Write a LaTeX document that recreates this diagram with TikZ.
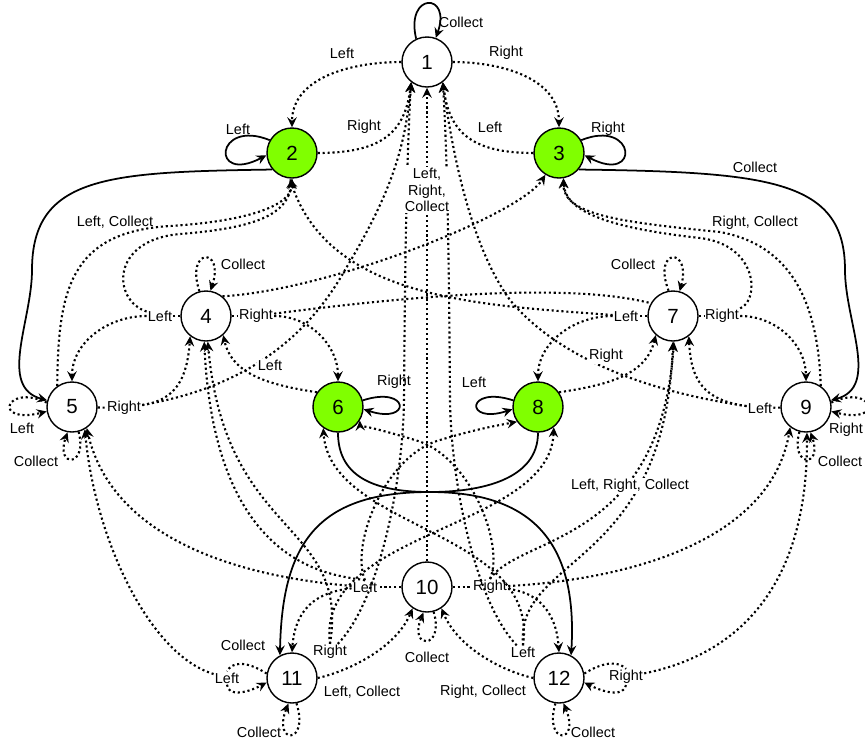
\documentclass[tikz,border=0pt]{standalone}
\usepackage{fontspec}
\setmainfont{Liberation Sans}
\usetikzlibrary{arrows.meta}
\definecolor{coingreen}{HTML}{80FF00}
\tikzset{
  state/.style={circle, draw, line width=1.2pt, minimum size=1.5cm, inner sep=0pt,
    font=\fontsize{17.5}{20}\selectfont},
  coin/.style={state, fill=coingreen},
  act/.style={font=\fontsize{12.3}{14}\selectfont, inner sep=1pt, fill=white},
  stub/.style={line width=1.8pt, dash pattern=on 1.8pt off 2.4pt},
  tip/.style={-{Stealth[length=8.5pt,width=8pt,inset=3pt]}},
  sure/.style={tip, line width=1.5pt},
  maybe/.style={stub, tip},
}
\begin{document}
\begin{tikzpicture}[x=0.03cm, y=0.03cm]
\useasboundingbox (0,0) rectangle (865,-742);

\node[state] (s1) at (427,-62) {1};
\node[coin] (s2) at (292,-153) {2};
\node[coin] (s3) at (559,-153) {3};
\node[state] (s4) at (206,-316) {4};
\node[state] (s5) at (72,-407) {5};
\node[coin] (s6) at (338,-407) {6};
\node[state] (s7) at (673,-316) {7};
\node[coin] (s8) at (538,-407) {8};
\node[state] (s9) at (806,-407) {9};
\node[state] (s10) at (427,-587) {10};
\node[state] (s11) at (292,-678) {11};
\node[state] (s12) at (559,-678) {12};

\node[act] (a4l) at (160,-316) {Left};
\node[act] (a4r) at (256,-316) {Right};
\node[act] (a7l) at (626,-316) {Left};
\node[act] (a7r) at (722,-316) {Right};
\node[act] (a5r) at (124,-408) {Right};
\node[act] (a9l) at (760,-408) {Left};
\node[act] (a10l) at (365,-587) {Left};
\node[act] (a10r) at (490,-587) {Right};
\node[act] (a11l) at (227,-678) {Left};
\node[act] (a11r) at (330,-652) {Right};
\node[act] (a12l) at (523,-652) {Left};
\node[act] (a12r) at (626,-677) {Right};

\draw[stub] (s4) -- (a4l);
\draw[stub] (s4) -- (a4r);
\draw[stub] (s7) -- (a7l);
\draw[stub] (s7) -- (a7r);
\draw[stub] (s5) -- (a5r);
\draw[stub] (s9) -- (a9l);
\draw[stub] (s10) -- (a10l);
\draw[stub] (s10) -- (a10r);

\draw[sure] (s1.115) .. controls (405,8) and (452,8) .. (s1.70);
\draw[maybe] (s1.west) to[out=180,in=90] (s2.north);
\draw[maybe] (s1.east) to[out=0,in=90] (s3.north);
\draw[sure] (s2.150) .. controls (215,-118) and (210,-185) .. (s2.185);
\draw[sure] (s3.30) .. controls (636,-118) and (641,-185) .. (s3.355);
\draw[maybe] (s2.east) .. controls (385,-153) and (405,-130) .. (s1.232);
\draw[maybe] (s3.west) .. controls (469,-153) and (449,-130) .. (s1.308);
\draw[sure] (s2.220) .. controls (110,-172) and (32,-175) .. (32,-270) to[out=-90,in=165] (s5.165);
\draw[sure] (s3.320) .. controls (770,-172) and (845,-180) .. (845,-270) to[out=-90,in=15] (s9.15);

\draw[maybe] (s5.125) .. controls (58,-290) and (70,-232) .. (170,-226) .. controls (250,-221) and (292,-205) .. (s2.south);
\draw[maybe] (a4l) .. controls (112,-300) and (110,-240) .. (180,-234) .. controls (255,-228) and (288,-215) .. (s2.south);
\draw[maybe] (s9.55) .. controls (818,-300) and (790,-245) .. (720,-232) .. controls (620,-222) and (563,-215) .. (s3.280);
\draw[maybe] (a7r) .. controls (760,-300) and (758,-245) .. (700,-238) .. controls (610,-228) and (565,-212) .. (s3.280);
\draw[maybe] (a4l) to[out=180,in=90] (s5.north);
\draw[maybe] (a4r) to[out=0,in=90] (s6.north);
\draw[maybe] (a7l) to[out=180,in=90] (s8.north);
\draw[maybe] (a7r) to[out=0,in=90] (s9.north);
\draw[maybe] (s4.105) .. controls (185,-247) and (225,-247) .. (s4.80);
\draw[maybe] (s7.100) .. controls (652,-247) and (692,-247) .. (s7.75);

\draw[maybe] (s4.50) .. controls (330,-290) and (520,-215) .. (s3.238);
\draw[maybe] (a7l) .. controls (480,-305) and (330,-300) .. (s2.265);
\draw[stub] (a4r) .. controls (380,-300) and (560,-280) .. (s7.150);
\draw[maybe] (a5r) .. controls (230,-390) and (300,-350) .. (345,-270) .. controls (390,-195) and (405,-150) .. (s1.232);
\draw[maybe] (a9l) .. controls (650,-392) and (560,-360) .. (510,-300) .. controls (470,-245) and (452,-150) .. (s1.308);

\draw[maybe] (s5.170) .. controls (5,-383) and (-8,-425) .. (s5.190);
\draw[maybe] (s5.285) .. controls (88,-468) and (55,-468) .. (s5.260);
\draw[maybe] (s9.10) .. controls (873,-383) and (886,-425) .. (s9.350);
\draw[maybe] (s9.255) .. controls (790,-468) and (823,-468) .. (s9.280);
\draw[maybe] (a5r) .. controls (175,-400) and (187,-380) .. (s4.232);
\draw[maybe] (a9l) .. controls (703,-400) and (691,-380) .. (s7.308);
\draw[maybe] (s6.145) .. controls (270,-385) and (232,-375) .. (s4.312);
\draw[maybe] (s8.35) .. controls (608,-385) and (646,-375) .. (s7.228);
\draw[sure] (s6.15) .. controls (410,-385) and (412,-425) .. (s6.355);
\draw[sure] (s8.165) .. controls (466,-385) and (464,-425) .. (s8.185);

\draw[sure] (s6.south) .. controls (338,-480) and (380,-492) .. (430,-492) .. controls (530,-492) and (578,-540) .. (s12.62);
\draw[sure] (s8.south) .. controls (538,-480) and (480,-492) .. (430,-492) .. controls (320,-492) and (282,-540) .. (s11.118);

\draw[maybe] (s10.north) -- (s1.south);
\draw[maybe] (a11r) .. controls (380,-600) and (403,-480) .. (404,-400) .. controls (405,-250) and (407,-150) .. (s1.232);
\draw[maybe] (a12l) .. controls (474,-600) and (451,-480) .. (450,-400) .. controls (449,-250) and (447,-150) .. (s1.308);
\draw[maybe] (a10l) .. controls (315,-592) and (295,-610) .. (s11.north);
\draw[maybe] (a10r) .. controls (536,-592) and (556,-610) .. (s12.north);
\draw[maybe] (a10l) .. controls (220,-575) and (110,-530) .. (s5.305);
\draw[maybe] (a10r) .. controls (620,-580) and (770,-545) .. (s9.232);
\draw[maybe] (a11l) .. controls (150,-655) and (95,-540) .. (s5.300);
\draw[maybe] (a12r) .. controls (760,-650) and (808,-560) .. (s9.272);
\draw[stub] (s11.170) .. controls (245,-660) and (232,-662) .. (a11l.north);
\draw[maybe] (a11l.south) .. controls (228,-696) and (245,-694) .. (s11.190);
\draw[stub] (s12.10) .. controls (606,-660) and (620,-662) .. (a12r.north);
\draw[maybe] (a12r.south) .. controls (624,-696) and (607,-694) .. (s12.350);
\draw[maybe] (s11.280) .. controls (310,-745) and (272,-745) .. (s11.262);
\draw[maybe] (s12.262) .. controls (543,-745) and (581,-745) .. (s12.280);
\draw[maybe] (s11.east) .. controls (345,-672) and (395,-650) .. (s10.236);
\draw[maybe] (s12.west) .. controls (506,-672) and (459,-650) .. (s10.304);
\draw[maybe] (s10.285) .. controls (445,-650) and (408,-650) .. (s10.262);

\draw[maybe] (a10l.north) .. controls (350,-545) and (385,-455) .. (440,-440) .. controls (480,-428) and (500,-425) .. (s8.215);
\draw[maybe] (a10r.north) .. controls (505,-545) and (470,-455) .. (415,-440) .. controls (375,-428) and (360,-425) .. (s6.328);
\draw[maybe] (a12l.north) .. controls (540,-530) and (330,-530) .. (s6.235);
\draw[maybe] (a11r.north) .. controls (315,-530) and (550,-530) .. (s8.308);
\draw[maybe] (a12l.north) .. controls (515,-555) and (665,-570) .. (s7.south);
\draw[maybe] (a10r.north) .. controls (520,-535) and (660,-545) .. (s7.272);
\draw[maybe] (a10l.north) .. controls (340,-575) and (215,-575) .. (s4.266);
\draw[maybe] (a11r.north) .. controls (350,-520) and (225,-540) .. (s4.274);

\node[act, fill=none] (t1c) at (461,-22) {Collect};
\node[act, fill=none] (t12) at (342,-53) {Left};
\node[act, fill=none] (t13) at (506,-53) {Right};
\node[act, fill=none] (t22) at (238,-129) {Left};
\node[act, fill=none] (t21) at (364,-127) {Right};
\node[act, fill=none] (t31) at (490,-127) {Left};
\node[act, fill=none] (t33) at (608,-129) {Right};
\node[act, fill=none] (t39) at (755,-167) {Collect};
\node[act, fill=none] (t52) at (115,-222) {Left, Collect};
\node[act, fill=none] (t93) at (755,-223) {Right, Collect};
\node[act, align=center] (t101) at (427,-190) {Left,\\Right,\\Collect};
\node[act, fill=none] (t44) at (243,-264) {Collect};
\node[act, fill=none] (t77) at (633,-264) {Collect};
\node[act] (t64) at (270,-365) {Left};
\node[act] (t87) at (606,-356) {Right};
\node[act] (t55l) at (22,-428) {Left};
\node[act, fill=none] (t55c) at (36,-461) {Collect};
\node[act, fill=none] (t66) at (394,-382) {Right};
\node[act, fill=none] (t88) at (474,-382) {Left};
\node[act] (t99r) at (846,-430) {Right};
\node[act, fill=none] (t99c) at (840,-461) {Collect};
\node[act] (t127) at (630,-486) {Left, Right, Collect};
\node[act, fill=none] (t1010) at (427,-657) {Collect};
\node[act, fill=none] (t811) at (243,-645) {Collect};
\node[act, fill=none] (t1110) at (362,-692) {Left, Collect};
\node[act, fill=none] (t1111) at (259,-732) {Collect};
\node[act, fill=none] (t1210) at (483,-692) {Right, Collect};
\node[act, fill=none] (t1212) at (593,-732) {Collect};
\end{tikzpicture}
\end{document}
